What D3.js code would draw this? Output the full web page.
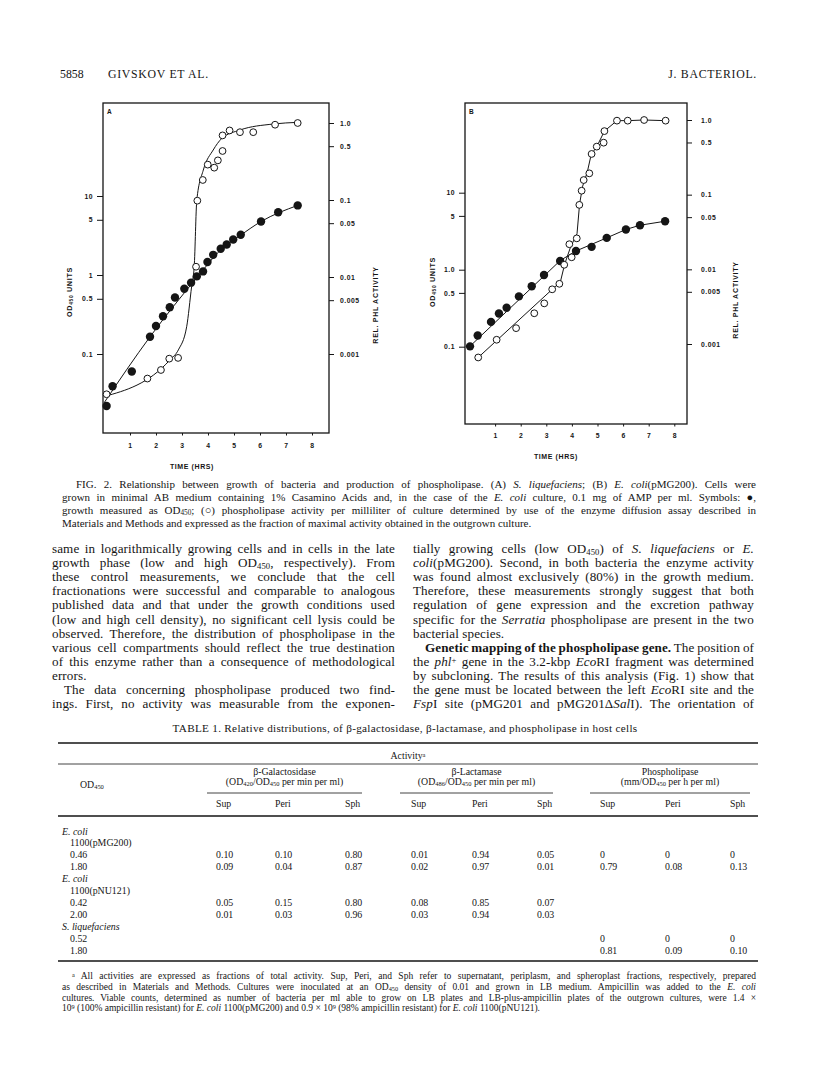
<!DOCTYPE html>
<html>
<head>
<meta charset="utf-8">
<script src="https://cdn.jsdelivr.net/npm/d3@7"></script>
<style>
  body { margin: 0; background: #fff; }
  svg { display: block; }
</style>
</head>
<body>
<svg id="page" width="816" height="1077"></svg>
<script>
// ---- chart data: [time (h), value] ----
// panel A, S. liquefaciens
var odA = [[0.10,0.022],[0.33,0.039],[1.07,0.060],[1.77,0.165],[2.00,0.226],[2.27,0.30],[2.53,0.39],
  [2.73,0.52],[3.09,0.67],[3.35,0.80],[3.57,0.96],[3.81,1.11],[3.98,1.46],[4.20,1.80],[4.49,2.15],
  [4.72,2.43],[4.97,2.81],[5.26,3.23],[6.04,4.75],[6.70,6.24],[7.45,7.6]];
var phlA = [[0.10,0.0003],[1.67,0.00048],[2.19,0.00062],[2.51,0.00087],[2.85,0.00089],[3.54,0.0136],
  [3.59,0.098],[3.80,0.182],[3.99,0.288],[4.24,0.263],[4.38,0.327],[4.56,0.433],[4.56,0.69],
  [4.83,0.80],[5.23,0.76],[5.74,0.76],[6.58,0.95],[7.45,1.0]];
var odFitA = [[0,0.024],[1.77,0.165],[3.6,0.95],[4.5,2.1],[5.26,3.2],[6.04,4.75],[7.45,7.6]];
var phlFitA = [[0,0.00028],[2.54,0.00084],[2.86,0.00113],[3.18,0.00226],[3.37,0.0075],[3.47,0.0136],
  [3.57,0.1],[3.82,0.245],[4.2,0.446],[4.53,0.63],[5.23,0.81],[6.51,0.97],[7.47,1.02]];
// panel B, E. coli(pMG200)
var odB = [[0.02,0.101],[0.32,0.140],[0.84,0.21],[1.15,0.27],[1.45,0.32],[1.93,0.45],[2.43,0.61],
  [2.91,0.855],[3.54,1.30],[4.16,1.75],[4.77,1.98],[5.36,2.59],[6.11,3.33],[6.66,3.78],[7.64,4.26]];
var phlB = [[0.34,0.00066],[1.06,0.00114],[1.82,0.00163],[2.53,0.00258],[2.92,0.0035],[3.23,0.0054],
  [3.51,0.0064],[3.70,0.0115],[3.99,0.0145],[3.90,0.0217],[4.19,0.026],[4.29,0.073],[4.38,0.113],
  [4.46,0.157],[4.68,0.193],[4.77,0.351],[4.97,0.44],[5.24,0.497],[5.27,0.71],[5.76,0.98],
  [6.18,0.98],[6.82,1.0],[7.66,0.98]];
var odFitB = [[0,0.1],[3.55,1.32],[4.16,1.75],[5.36,2.59],[6.11,3.33],[6.66,3.78],[7.64,4.26]];
var phlFitB = [[0.34,0.00066],[3.55,0.0068],[3.72,0.0118],[3.95,0.02],[4.2,0.03],[4.3,0.075],
  [4.42,0.13],[4.6,0.2],[4.75,0.34],[5.0,0.46],[5.27,0.71],[5.76,0.98],[6.18,0.98],[6.82,1.0],[7.66,0.98]];

var timeTicks = [1,2,3,4,5,6,7,8];
var odTicks = [10,5,1,0.5,0.1];
var odLabelsA = ["10","5","1","0.5","0.1"];
var odLabelsB = ["10","5","1.0","0.5","0.1"];
var relTicks = [1,0.5,0.1,0.05,0.01,0.005,0.001];
var relLabels = ["1.0","0.5","0.1","0.05","0.01","0.005","0.001"];

// ---- page text ----
var headLeft = ["5858", "GIVSKOV ET AL."];
var headRight = "J. BACTERIOL.";
var caption = [
  "FIG. 2. Relationship between growth of bacteria and production of phospholipase. (A) *S. liquefaciens*; (B) *E. coli*(pMG200). Cells were",
  "grown in minimal AB medium containing 1% Casamino Acids and, in the case of the *E. coli* culture, 0.1 mg of AMP per ml. Symbols: \u25CF,",
  "growth measured as OD_{450}; (\u25CB) phospholipase activity per milliliter of culture determined by use of the enzyme diffusion assay described in",
  "Materials and Methods and expressed as the fraction of maximal activity obtained in the outgrown culture."
];
var bodyLeft = [
  "same in logarithmically growing cells and in cells in the late",
  "growth phase (low and high OD_{450}, respectively). From",
  "these control measurements, we conclude that the cell",
  "fractionations were successful and comparable to analogous",
  "published data and that under the growth conditions used",
  "(low and high cell density), no significant cell lysis could be",
  "observed. Therefore, the distribution of phospholipase in the",
  "various cell compartments should reflect the true destination",
  "of this enzyme rather than a consequence of methodological",
  "errors.",
  "The data concerning phospholipase produced two find-",
  "ings. First, no activity was measurable from the exponen-"
];
var bodyRight = [
  "tially growing cells (low OD_{450}) of *S. liquefaciens* or *E.*",
  "*coli*(pMG200). Second, in both bacteria the enzyme activity",
  "was found almost exclusively (80%) in the growth medium.",
  "Therefore, these measurements strongly suggest that both",
  "regulation of gene expression and the excretion pathway",
  "specific for the *Serratia* phospholipase are present in the two",
  "bacterial species.",
  "**Genetic mapping of the phospholipase gene.** The position of",
  "the *phl*^{+} gene in the 3.2-kbp *Eco*RI fragment was determined",
  "by subcloning. The results of this analysis (Fig. 1) show that",
  "the gene must be located between the left *Eco*RI site and the",
  "*Fsp*I site (pMG201 and pMG201\u0394*Sal*I). The orientation of"
];
var leftShort = [9], leftIndent = [10];
var rightShort = [6], rightIndent = [7];

var tableTitle = "TABLE 1. Relative distributions, of \u03B2-galactosidase, \u03B2-lactamase, and phospholipase in host cells";
var groups = [["\u03B2-Galactosidase", "(OD_{420}/OD_{450} per min per ml)"],
              ["\u03B2-Lactamase", "(OD_{486}/OD_{450} per min per ml)"],
              ["Phospholipase", "(mm/OD_{450} per h per ml)"]];
var subCols = ["Sup","Peri","Sph","Sup","Peri","Sph","Sup","Peri","Sph"];
var rowLabels = ["*E. coli*","1100(pMG200)","0.46","1.80","*E. coli*","1100(pNU121)","0.42","2.00","*S. liquefaciens*","0.52","1.80"];
var rowIndent = [0,1,1,1,0,1,1,1,0,1,1];
var rowValues = [
  [], [],
  ["0.10","0.10","0.80","0.01","0.94","0.05","0","0","0"],
  ["0.09","0.04","0.87","0.02","0.97","0.01","0.79","0.08","0.13"],
  [], [],
  ["0.05","0.15","0.80","0.08","0.85","0.07","","",""],
  ["0.01","0.03","0.96","0.03","0.94","0.03","","",""],
  [],
  ["","","","","","","0","0","0"],
  ["","","","","","","0.81","0.09","0.10"]
];
var footnote = [
  "^{a} All activities are expressed as fractions of total activity. Sup, Peri, and Sph refer to supernatant, periplasm, and spheroplast fractions, respectively, prepared",
  "as described in Materials and Methods. Cultures were inoculated at an OD_{450} density of 0.01 and grown in LB medium. Ampicillin was added to the *E. coli*",
  "cultures. Viable counts, determined as number of bacteria per ml able to grow on LB plates and LB-plus-ampicillin plates of the outgrown cultures, were 1.4 \u00D7",
  "10^{9} (100% ampicillin resistant) for *E. coli* 1100(pMG200) and 0.9 \u00D7 10^{9} (98% ampicillin resistant) for *E. coli* 1100(pNU121)."
];

var svg = d3.select("#page");
svg.append("rect").attr("width", 816).attr("height", 1077).attr("fill", "#fff");
var ink = "#151515";
var serif = "'Liberation Serif', 'Times New Roman', serif";
var sans = "'Liberation Sans', Arial, sans-serif";

// little markup: *italic*, **bold**, _{sub}, ^{sup}
function rich(text, str) {
  str.split(/(\*\*[^*]+\*\*|\*[^*]+\*|_\{[^}]*\}|\^\{[^}]*\})/).filter(s => s !== "").forEach(p => {
    var ts = text.append("tspan");
    if (p.startsWith("**")) ts.text(p.slice(2, -2)).attr("font-weight", "bold");
    else if (p.startsWith("*")) ts.text(p.slice(1, -1)).attr("font-style", "italic");
    else if (p.startsWith("_{")) ts.text(p.slice(2, -1)).attr("baseline-shift", "-18%").attr("font-size", "66%");
    else if (p.startsWith("^{")) ts.text(p.slice(2, -1)).attr("baseline-shift", "30%").attr("font-size", "66%");
    else ts.text(p);
  });
  return text;
}

// justified lines get their slack as word spacing, as in the printed page
function line(str, x, y, size, width, ls) {
  var t = svg.append("text").attr("x", x).attr("y", y)
    .attr("font-family", serif).attr("font-size", size).attr("fill", ink);
  if (ls) t.attr("letter-spacing", ls);
  rich(t, str);
  if (width) {
    var nat = t.node().getComputedTextLength();
    var gaps = (t.text().match(/ /g) || []).length;
    if (gaps) t.attr("word-spacing", (width - nat) / gaps);
  }
  return t;
}

// ---- running head ----
line(headLeft[0], 60, 78, 11.8);
line(headLeft[1], 108, 78, 11.8, null, 0.7);
line(headRight, 757, 78, 11.8, null, 0.7).attr("text-anchor", "end");

// ---- the two panels ----
function panel(cfg) {
  var x = d3.scaleLinear().domain(cfg.xDom).range([cfg.left, cfg.right]);
  var yL = d3.scaleLog().domain([0.1, 10]).range(cfg.yL);
  var yR = d3.scaleLog().domain([0.001, 1]).range(cfg.yR);
  var g = svg.append("g");

  g.append("rect").attr("x", cfg.left).attr("y", cfg.top)
    .attr("width", cfg.right - cfg.left).attr("height", cfg.bottom - cfg.top)
    .attr("fill", "none").attr("stroke", ink).attr("stroke-width", 1.3);

  var lineL = d3.line().x(d => x(d[0])).y(d => yL(d[1])).curve(cfg.curve);
  var lineR = d3.line().x(d => x(d[0])).y(d => yR(d[1])).curve(cfg.curve);
  g.append("path").attr("d", lineL(cfg.odFit)).attr("fill", "none").attr("stroke", ink).attr("stroke-width", 1);
  g.append("path").attr("d", lineR(cfg.phlFit)).attr("fill", "none").attr("stroke", ink).attr("stroke-width", 1);

  g.selectAll(".od").data(cfg.od).join("circle")
    .attr("cx", d => x(d[0])).attr("cy", d => yL(d[1])).attr("r", 4.2).attr("fill", ink);
  g.selectAll(".phl").data(cfg.phl).join("circle")
    .attr("cx", d => x(d[0])).attr("cy", d => yR(d[1])).attr("r", 3.4)
    .attr("fill", "#fff").attr("stroke", ink).attr("stroke-width", 1);

  function style(a) {
    a.select(".domain").remove();
    a.attr("font-family", sans).attr("font-size", 6.8).attr("font-weight", "bold");
    a.selectAll("line").attr("stroke", ink).attr("stroke-width", 1);
    a.selectAll("text").attr("fill", ink).attr("letter-spacing", 0.5);
  }
  g.append("g").attr("transform", `translate(${cfg.left},0)`)
    .call(d3.axisLeft(yL).tickValues(odTicks).tickFormat((d, i) => cfg.odLabels[i]).tickSize(6).tickPadding(cfg.padL))
    .call(style);
  g.append("g").attr("transform", `translate(${cfg.right},0)`)
    .call(d3.axisRight(yR).tickValues(relTicks).tickFormat((d, i) => relLabels[i]).tickSize(5).tickPadding(cfg.padR))
    .call(style);
  g.append("g").attr("transform", `translate(0,${cfg.bottom})`)
    .call(d3.axisBottom(x).tickValues(timeTicks).tickFormat(d3.format("d")).tickSize(2.5).tickPadding(cfg.padB))
    .call(style);

  var lab = g.append("g").attr("font-family", sans).attr("font-weight", "bold").attr("fill", ink);
  lab.append("text").attr("x", cfg.left + 4).attr("y", cfg.top + 11).attr("font-size", 6.5).text(cfg.name);
  lab.append("text").attr("x", cfg.timeLab[0]).attr("y", cfg.timeLab[1]).attr("text-anchor", "middle")
    .attr("font-size", 7).attr("letter-spacing", 0.6).text("TIME (HRS)");
  var yl = lab.append("text").attr("transform", `translate(${cfg.odLab[0]},${cfg.odLab[1]}) rotate(-90)`)
    .attr("text-anchor", "middle").attr("font-size", 7.2).attr("letter-spacing", 0.7);
  rich(yl, "OD_{450}  UNITS");
  lab.append("text").attr("transform", `translate(${cfg.relLab[0]},${cfg.relLab[1]}) rotate(-90)`)
    .attr("text-anchor", "middle").attr("font-size", 7).attr("letter-spacing", 0.7).text("REL. PHL ACTIVITY");
}

panel({
  name: "A", left: 103, right: 329, top: 103, bottom: 433,
  xDom: [-0.038, 8.654], yL: [354, 196], yR: [354, 123],
  od: odA, phl: phlA, odFit: odFitA, phlFit: phlFitA, curve: d3.curveMonotoneX,
  odLabels: odLabelsA, padL: 4, padR: 6, padB: 8,
  timeLab: [192, 469], odLab: [72, 292], relLab: [378, 305]
});
panel({
  name: "B", left: 465, right: 687, top: 103, bottom: 424,
  xDom: [-0.176, 8.496], yL: [346.7, 192.7], yR: [344, 120],
  od: odB, phl: phlB, odFit: odFitB, phlFit: phlFitB, curve: d3.curveLinear,
  odLabels: odLabelsB, padL: 4, padR: 9, padB: 7,
  timeLab: [556, 459], odLab: [435, 282], relLab: [738, 300]
});

// ---- figure legend ----
caption.forEach((s, i) => {
  var x0 = i === 0 ? 76 : 62;
  line(s, x0, 488 + i * 13, 11, i < 3 ? 756 - x0 : null);
});

// ---- two text columns ----
function column(lines, x0, w, shortIdx, indentIdx) {
  lines.forEach((s, i) => {
    var ind = indentIdx.includes(i) ? 12 : 0;
    line(s, x0 + ind, 553 + i * 14.1, 13.1, shortIdx.includes(i) ? null : w - ind, 0.1);
  });
}
column(bodyLeft, 52, 343, leftShort, leftIndent);
column(bodyRight, 413, 341, rightShort, rightIndent);

// ---- table 1 ----
var tL = 58, tR = 758;
var colX = [216, 275, 345, 411, 472, 537, 600, 665, 730];
var groupSpan = [[207, 362], [400, 553], [590, 750]];
line(tableTitle, 405, 732, 11.2, null, 0.3).attr("text-anchor", "middle");
function rule(x1, x2, y, w) {
  svg.append("line").attr("x1", x1).attr("x2", x2).attr("y1", y).attr("y2", y)
    .attr("stroke", ink).attr("stroke-width", w);
}
rule(tL, tR, 743, 1.6);
line("Activity^{a}", 408, 759, 9.8).attr("text-anchor", "middle");
rule(tL, tR, 764, 0.8);
groups.forEach((gp, i) => {
  var cx = (groupSpan[i][0] + groupSpan[i][1]) / 2;
  line(gp[0], cx, 774.5, 9.8).attr("text-anchor", "middle");
  line(gp[1], cx, 785, 9.8).attr("text-anchor", "middle");
  rule(groupSpan[i][0], groupSpan[i][1], 793, 0.8);
});
line("OD_{450}", 80, 788, 9.8);
subCols.forEach((c, i) => line(c, colX[i], 806.5, 9.8));
rule(tL, tR, 816, 1.4);
rowLabels.forEach((lab, r) => {
  var y = 834.5 + r * 11.9;
  line(lab, rowIndent[r] ? 70 : 62, y, 9.9);
  rowValues[r].forEach((v, c) => { if (v !== "") line(v, colX[c], y, 9.9); });
});
rule(tL, tR, 961, 1.6);
footnote.forEach((s, i) => {
  var x0 = i === 0 ? 72 : 62;
  line(s, x0, 979 + i * 10.8, 9.5, i < 3 ? 756 - x0 : null);
});
</script>
</body>
</html>
